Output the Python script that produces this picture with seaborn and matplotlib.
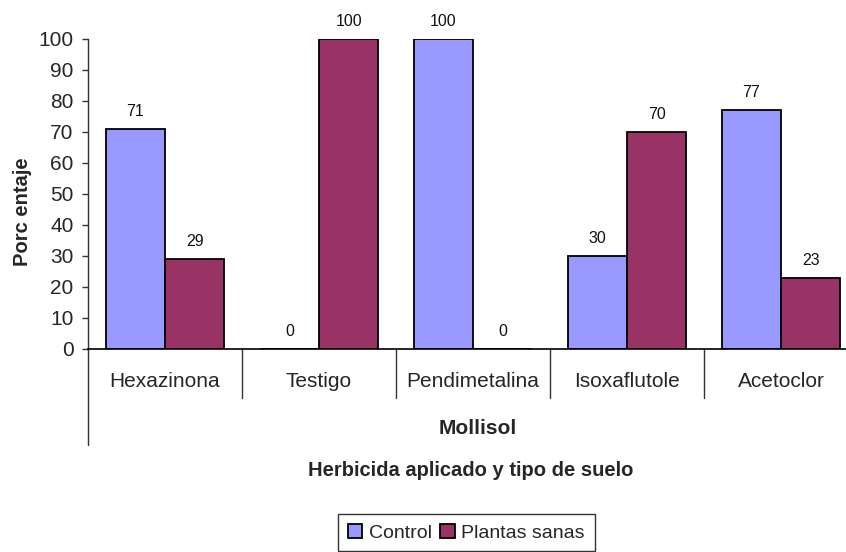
import matplotlib
matplotlib.use("Agg")
import matplotlib.pyplot as plt
import matplotlib.transforms as mtransforms
from matplotlib.patches import Patch
import pandas as pd
import seaborn as sns

# Data
categories = ["Hexazinona", "Testigo", "Pendimetalina", "Isoxaflutole", "Acetoclor"]
control = [71, 0, 100, 30, 77]
plantas_sanas = [29, 100, 0, 70, 23]
series_names = ["Control", "Plantas sanas"]
yticks = list(range(0, 101, 10))
group_label = "Mollisol"
x_title = "Herbicida aplicado y tipo de suelo"
y_title = "Porc entaje"

colors = {"Control": "#9999FF", "Plantas sanas": "#993366"}

df = pd.DataFrame({
    "categoria": categories * 2,
    "serie": [series_names[0]] * len(categories) + [series_names[1]] * len(categories),
    "valor": control + plantas_sanas,
})

sns.set_style("white")
plt.rcParams["font.family"] = ["Liberation Sans", "DejaVu Sans"]

W, H, DPI = 846, 552, 100
fig = plt.figure(figsize=(W / DPI, H / DPI), dpi=DPI)

# plot area in pixels
ax_left, ax_right = 88, 858
ax_top, ax_bottom = 38.5, 349
ax = fig.add_axes([ax_left / W, 1 - ax_bottom / H,
                   (ax_right - ax_left) / W, (ax_bottom - ax_top) / H])

sns.barplot(data=df, x="categoria", y="valor", hue="serie", order=categories,
            hue_order=series_names, palette=colors, saturation=1, width=0.77, gap=0,
            edgecolor="black", linewidth=1.3, legend=False, ax=ax)

ax.set_xlim(-0.5, len(categories) - 0.5)
ax.set_ylim(0, 100)
ax.set_yticks(yticks)
ax.tick_params(axis="y", direction="out", length=4.5, width=1, color="#333333",
               labelsize=15, pad=6, left=True)
ax.set_xticks(range(len(categories)))
ax.set_xticklabels(categories, fontsize=15)
ax.tick_params(axis="x", length=0, pad=16.5)
ax.set_xlabel("")
ax.set_ylabel("")

for s in ["top", "right"]:
    ax.spines[s].set_visible(False)
ax.spines["left"].set_color("#333333")
ax.spines["left"].set_linewidth(1)
ax.spines["bottom"].set_color("black")
ax.spines["bottom"].set_linewidth(1.2)

# value labels above bars
for cont, vals in zip(ax.containers, [control, plantas_sanas]):
    ax.bar_label(cont, labels=[str(v) for v in vals], padding=7, fontsize=11.5,
                 color="#111111")

# category group separators below the axis
ax_h_px = ax_bottom - ax_top
trans = mtransforms.blended_transform_factory(ax.transData, ax.transAxes)
for k in range(len(categories) + 1):
    depth = 96 if k == 0 else 49
    ax.plot([k - 0.5, k - 0.5], [0, -depth / ax_h_px], transform=trans,
            color="#333333", lw=1, clip_on=False)

fig.text(478 / W, 1 - 428 / H, group_label, ha="center", va="center",
         fontsize=15, fontweight="bold")
fig.text(471 / W, 1 - 470 / H, x_title, ha="center", va="center",
         fontsize=14.5, fontweight="bold")
fig.text(22 / W, 1 - 212 / H, y_title, ha="center", va="center", rotation=90,
         fontsize=14.5, fontweight="bold")

handles = [Patch(facecolor=colors[n], edgecolor="black", linewidth=1.3) for n in series_names]
leg = fig.legend(handles, series_names, loc="upper left",
                 bbox_to_anchor=(338 / W, 1 - 514 / H), ncol=2, fontsize=14,
                 frameon=True, fancybox=False, edgecolor="black",
                 handlelength=0.75, handleheight=0.75, handletextpad=0.32,
                 columnspacing=0.46, borderpad=0.5, borderaxespad=0)
leg.get_frame().set_linewidth(1)

fig.savefig("out.png", dpi=DPI)
